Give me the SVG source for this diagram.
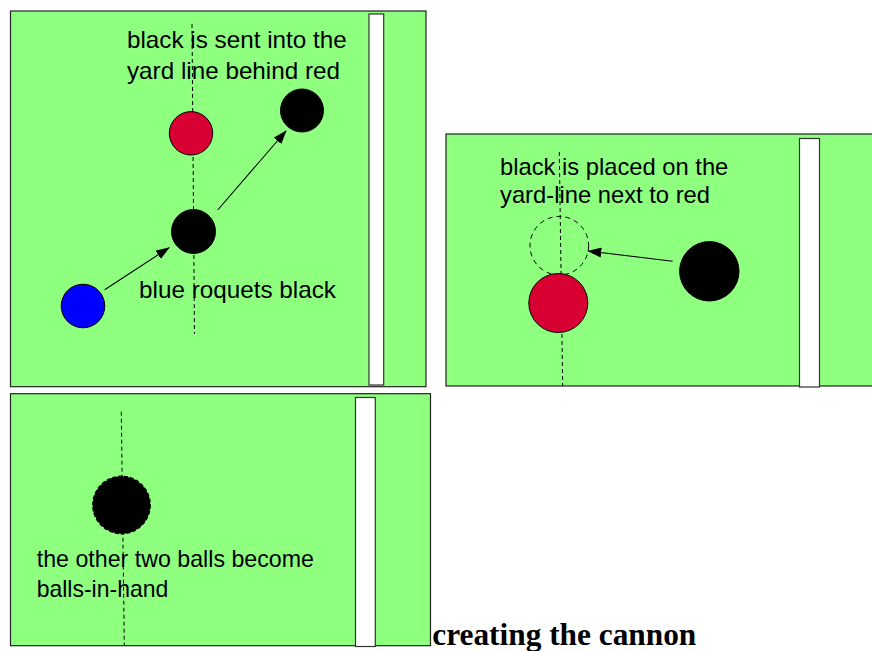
<svg xmlns="http://www.w3.org/2000/svg" width="872" height="651" viewBox="0 0 872 651">
<style>
.panel{fill:#8fff7f;stroke:#222;stroke-width:1.2}
.bar{fill:#fff;stroke:#333;stroke-width:1.2}
.yard{fill:none;stroke:#000;stroke-width:1;stroke-dasharray:4,3}
.lbl{font-family:"Liberation Sans",Arial,sans-serif;font-size:24px;fill:#000}
.ball{stroke:#000;stroke-width:1}
.arrow{fill:none;stroke:#000;stroke-width:1.1;marker-end:url(#ah)}
.title{font-family:"Liberation Serif","Times New Roman",serif;font-weight:bold;font-size:32px;fill:#000}
</style>
<defs>
<marker id="ah" markerWidth="14" markerHeight="10" refX="13" refY="5" orient="auto" markerUnits="userSpaceOnUse">
<path d="M0,0 L14,5 L0,10 Z" fill="#000"/>
</marker>
</defs>
<rect width="872" height="651" fill="#fff"/>
<g id="panel1">
<rect class="panel" x="10.5" y="11" width="415.5" height="375.7"/>
<rect class="bar" x="369" y="14" width="14.7" height="371"/>
<line class="yard" x1="192" y1="24" x2="194.5" y2="334"/>
<text class="lbl" x="127" y="47.5" textLength="219.7" lengthAdjust="spacingAndGlyphs">black is sent into the</text>
<text class="lbl" x="127" y="78.5" textLength="213" lengthAdjust="spacingAndGlyphs">yard line behind red</text>
<text class="lbl" x="139" y="297.8" textLength="197" lengthAdjust="spacingAndGlyphs">blue roquets black</text>
</g>
<g id="panel2">
<rect class="panel" x="446" y="134" width="440" height="252"/>
<rect class="bar" x="799.5" y="138.5" width="20" height="248.5"/>
<line class="yard" x1="559.3" y1="152" x2="562.7" y2="386"/>
<text class="lbl" x="500" y="175" textLength="228.3" lengthAdjust="spacingAndGlyphs">black is placed on the</text>
<text class="lbl" x="500" y="203.3" textLength="210" lengthAdjust="spacingAndGlyphs">yard-line next to red</text>
</g>
<g id="panel3">
<rect class="panel" x="10.5" y="393.7" width="420" height="252"/>
<rect class="bar" x="355.5" y="397.5" width="19.8" height="249"/>
<line class="yard" x1="121.3" y1="411.7" x2="124.3" y2="645"/>
<text class="lbl" x="36.7" y="566.7" textLength="277.3" lengthAdjust="spacingAndGlyphs">the other two balls become</text>
<text class="lbl" x="36.7" y="596.7" textLength="131.6" lengthAdjust="spacingAndGlyphs">balls-in-hand</text>
</g>
<g id="red1"><circle class="ball" cx="191" cy="133.3" r="21.7" fill="#d80032"/></g>
<g id="black1"><circle class="ball" cx="193.5" cy="231.5" r="22" fill="#000"/></g>
<g id="black2"><circle class="ball" cx="302" cy="110.5" r="21.5" fill="#000"/></g>
<g id="blue1"><circle class="ball" cx="83" cy="306" r="21.8" fill="#0000ff"/></g>
<g id="ghost2"><circle cx="559.3" cy="245.7" r="29.3" fill="none" stroke="#000" stroke-width="1" stroke-dasharray="5,4"/></g>
<g id="red2"><circle class="ball" cx="558.3" cy="303" r="29.5" fill="#d80032"/></g>
<g id="black3"><circle class="ball" cx="709.3" cy="271.3" r="29.7" fill="#000"/></g>
<g id="black4"><circle cx="121.5" cy="505" r="28.8" fill="#000" stroke="#000" stroke-width="1.2" stroke-dasharray="4,2"/></g>
<g id="connectors">
<line class="arrow" x1="104.7" y1="289.7" x2="169" y2="247.7"/>
<line class="arrow" x1="217.7" y1="210" x2="286" y2="131"/>
<line class="arrow" x1="672.7" y1="261.3" x2="588.3" y2="251"/>
</g>
<g id="title">
<text class="title" x="432.3" y="645" textLength="264" lengthAdjust="spacingAndGlyphs">creating the cannon</text>
</g>
</svg>
